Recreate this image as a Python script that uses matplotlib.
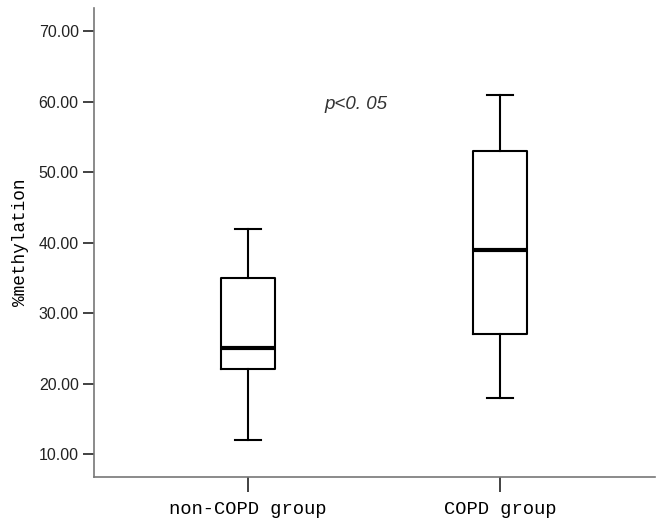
import matplotlib
matplotlib.use("Agg")
from matplotlib import pyplot as plt

# box statistics
groups = ["non-COPD group", "COPD group"]
whisker_low = [12, 18]
q1 = [22, 27]
median = [25, 39]
q3 = [35, 53]
whisker_high = [42, 61]
yticks = [10, 20, 30, 40, 50, 60, 70]

stats = []
for i in range(len(groups)):
    stats.append({"label": groups[i], "whislo": whisker_low[i], "q1": q1[i],
                  "med": median[i], "q3": q3[i], "whishi": whisker_high[i], "fliers": []})

fig = plt.figure(figsize=(6.64, 5.28), dpi=100)
ax = fig.add_axes([94/664, 1-477/528, (655-94)/664, (477-8)/528])

ax.bxp(stats, positions=[1, 2], widths=0.218, showfliers=False,
       boxprops=dict(color="black", linewidth=1.5),
       whiskerprops=dict(color="black", linewidth=1.5),
       capprops=dict(color="black", linewidth=1.5),
       medianprops=dict(color="black", linewidth=3),
       capwidths=0.1)

ax.set_xlim(0.389, 2.615)
ax.set_ylim(6.74, 73.3)
ax.set_yticks(yticks)
ax.set_yticklabels(["%.2f" % v for v in yticks], fontsize=11.5, family="Liberation Sans", color="#222222")
ax.set_xticklabels(groups, fontsize=13.5, family="Liberation Mono")
ax.tick_params(axis="y", length=8, width=1.3, color="#333333", pad=3)
ax.tick_params(axis="x", length=11, width=1.3, color="#333333", pad=6)
ax.set_ylabel("%methylation", fontsize=12.8, family="Liberation Mono", labelpad=7)

for s in ["top", "right"]:
    ax.spines[s].set_visible(False)
for s in ["left", "bottom"]:
    ax.spines[s].set_color("#777777")
    ax.spines[s].set_linewidth(1.2)

ax.text(1.43, 59.6, "p<0. 05", fontsize=13.5, style="italic", ha="center", va="center",
        family="Liberation Sans", color="#333333")

fig.savefig("out.png", dpi=100)
